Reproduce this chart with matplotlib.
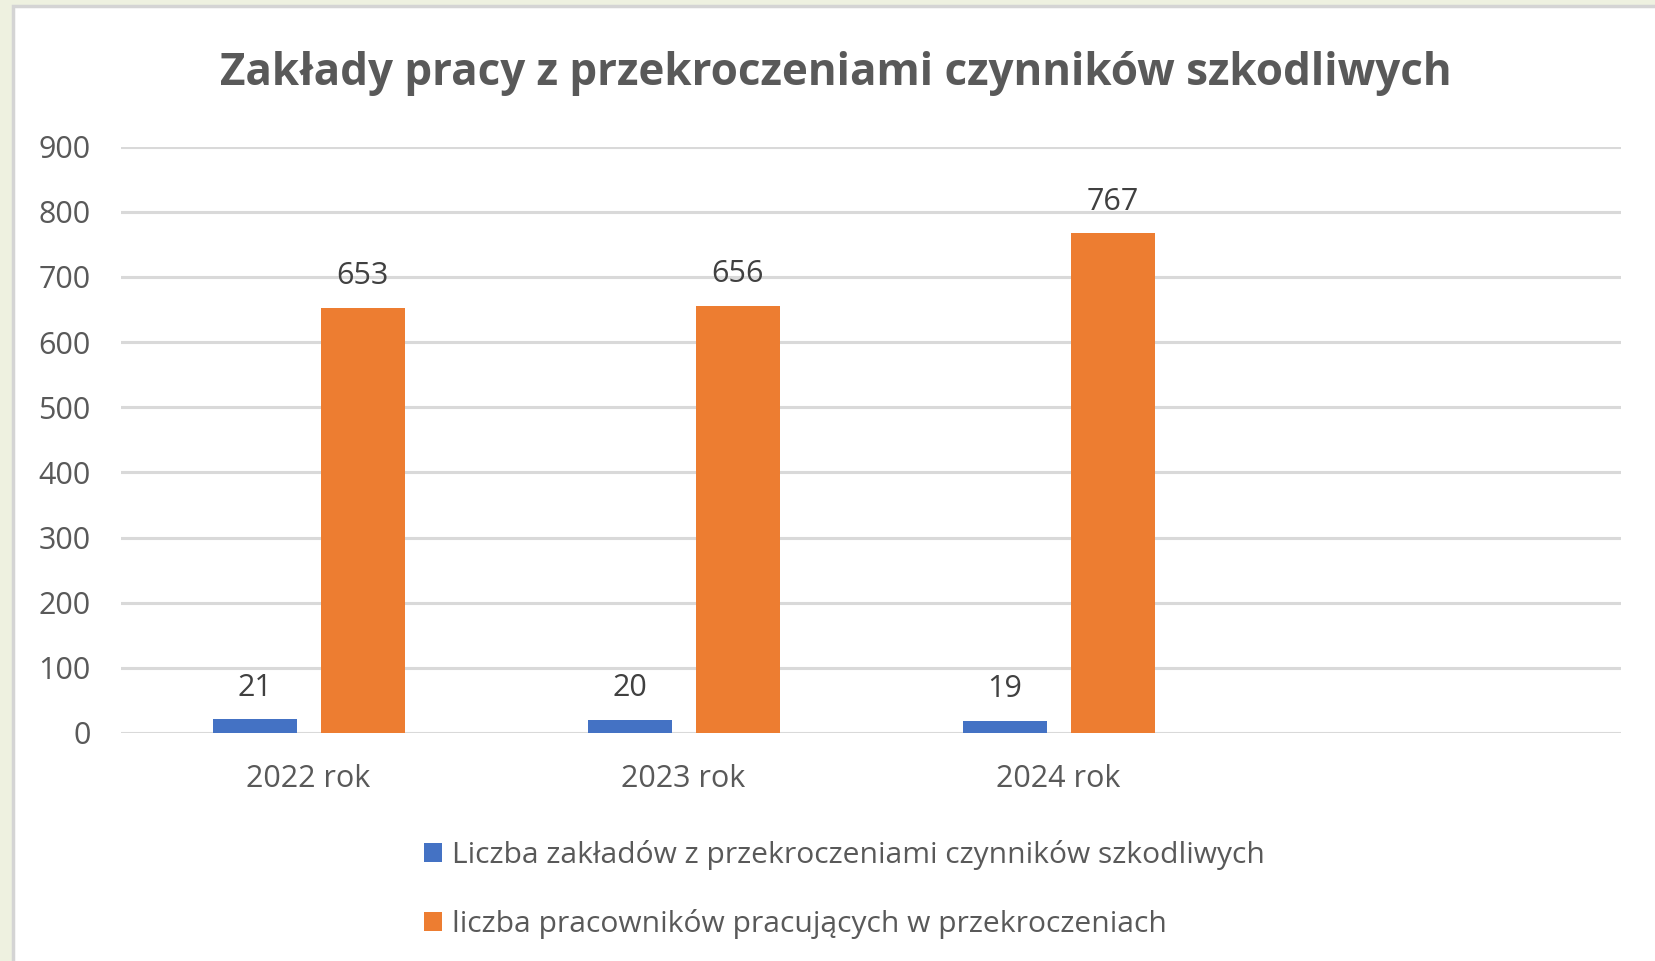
import matplotlib.pyplot as plt
from matplotlib.patches import Rectangle
import numpy as np

# dane
kategorie = ["2022 rok", "2023 rok", "2024 rok", ""]
zaklady = [21, 20, 19, None]
pracownicy = [653, 656, 767, None]
seria_nazwy = ["Liczba zakładów z przekroczeniami czynników szkodliwych",
               "liczba pracowników pracujących w przekroczeniach"]
y_ticks = [0, 100, 200, 300, 400, 500, 600, 700, 800, 900]

plt.rcParams['font.family'] = ['Open Sans', 'DejaVu Sans']
szary = "#595959"
niebieski = "#4472c4"
pomaranczowy = "#ed7d31"

fig = plt.figure(figsize=(16.55, 9.61), dpi=100, facecolor="#eef1e0")
# biały panel z ramką
fig.patches.append(Rectangle((13 / 1655, -0.05), 1.1, 1 - 6 / 961 + 0.05,
                             transform=fig.transFigure, facecolor="white",
                             edgecolor="#d4d4d4", linewidth=2.5, zorder=-5))

ax = fig.add_axes([121 / 1655, 1 - 733 / 961, 1500 / 1655, (733 - 146.7) / 961])
ax.set_facecolor("none")
ax.set_zorder(2)

x = np.arange(len(kategorie))
w = 0.224
off = 0.144
b1 = [v if v is not None else 0 for v in zaklady]
b2 = [v if v is not None else 0 for v in pracownicy]
n = 3
r1 = ax.bar(x[:n] - off, b1[:n], w, color=niebieski, label=seria_nazwy[0], zorder=3)
r2 = ax.bar(x[:n] + off, b2[:n], w, color=pomaranczowy, label=seria_nazwy[1], zorder=3)

for rects, vals in ((r1, zaklady), (r2, pracownicy)):
    for r, v in zip(rects, vals):
        ax.annotate(str(v), (r.get_x() + r.get_width() / 2, r.get_height()),
                    xytext=(0, 12), textcoords="offset points", ha="center",
                    va="bottom", fontsize=22, color="#404040")

ax.set_xlim(-0.5, 3.5)
ax.set_ylim(0, 900)
ax.set_yticks(y_ticks)
ax.set_xticks(x)
ax.set_xticklabels(kategorie)
ax.tick_params(axis="both", length=0, labelsize=22, colors=szary)
ax.tick_params(axis="y", pad=22)
ax.tick_params(axis="x", pad=22)
ax.grid(axis="y", color="#d9d9d9", linewidth=2.2, zorder=0)
ax.set_axisbelow(True)
for s in ax.spines.values():
    s.set_visible(False)

fig.text(836 / 1655, 1 - 74 / 961, "Zakłady pracy z przekroczeniami czynników szkodliwych",
         ha="center", va="center", fontsize=31.7, fontweight="bold", color=szary)

fig.legend(loc="upper left", bbox_to_anchor=(409 / 1655, 1 - 825 / 961), ncol=1,
           frameon=False, fontsize=21.6, labelcolor=szary, handlelength=0.6,
           handleheight=0.6, handletextpad=0.35, labelspacing=1.3, borderpad=0)

fig.savefig("out.png", dpi=100, facecolor=fig.get_facecolor())
